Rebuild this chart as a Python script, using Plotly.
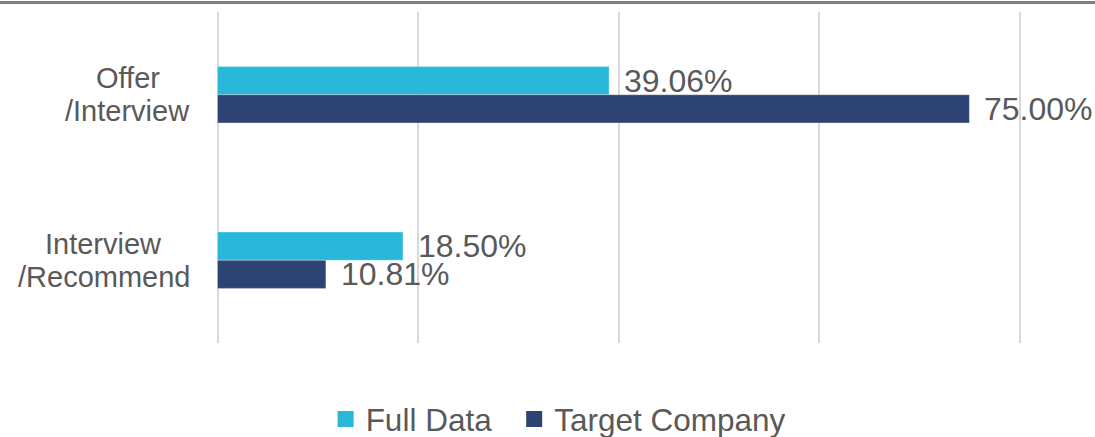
import plotly.graph_objects as go

categories = ["Offer<br>/Interview", "Interview<br>/Recommend"]
series_names = ["Full Data", "Target Company"]
full_data = [39.06, 18.50]
target_company = [75.00, 10.81]
colors = ["#29B8D9", "#2D4374"]
x_ticks = [0, 20, 40, 60, 80]

font_family = "Arial, Liberation Sans, sans-serif"
text_color = "#595959"
NB = "\u00a0"
LABEL_SIZE = 29

# Arial / Liberation Sans advance widths (per 1000 em) used to centre label lines
ARIAL_W = {"O": 778, "f": 278, "e": 556, "r": 333, "/": 278, "I": 278, "n": 556,
           "t": 278, "v": 500, "i": 222, "w": 722, "R": 722, "c": 500, "o": 556,
           "m": 833, "d": 556}


def text_width(s, size):
    return sum(ARIAL_W.get(ch, 556) for ch in s) * size / 1000.0


fig = go.Figure()
series_values = [full_data, target_company]
for i, (name, vals, col) in enumerate(zip(series_names, series_values, colors)):
    fig.add_trace(go.Bar(
        name=name, y=categories, x=vals, orientation="h",
        marker=dict(color=col, line=dict(color="rgba(255,255,255,0.5)", width=0.6)),
        showlegend=False,
    ))
    fig.add_trace(go.Scatter(
        name=name + (NB * 2 if i == 0 else ""), x=[None], y=[None], mode="markers",
        marker=dict(symbol="square", size=16, color=col),
        showlegend=True,
    ))

annotations = []
# category labels: each line its own annotation, lines centred on each other,
# block right edge 26px left of the plot
for c in categories:
    lines = c.split("<br>")
    widest = max(text_width(s, LABEL_SIZE) for s in lines)
    centre_shift = -26 - widest / 2.0
    for k, line in enumerate(lines):
        annotations.append(dict(
            x=0, xref="paper", xanchor="center", xshift=centre_shift,
            y=c, yref="y", yanchor="middle", yshift=16.5 - 33 * k, text=line,
            showarrow=False, align="center",
            font=dict(size=LABEL_SIZE, color=text_color, family=font_family),
        ))
# data labels
shifts = [14, -14]
for vals, ys in zip(series_values, shifts):
    for c, v in zip(categories, vals):
        annotations.append(dict(
            x=v, xref="x", xanchor="left", xshift=13,
            y=c, yref="y", yanchor="middle", yshift=ys,
            text=f"{v:.2f}%", showarrow=False,
            font=dict(size=32, color=text_color, family=font_family),
        ))

# plot area: x 217..1020, y 12..343 (page pixels); figure taller than window so
# the legend never pushes the margins
fig.update_layout(
    width=1095, height=490,
    margin=dict(l=216, r=74, t=12, b=147),
    paper_bgcolor="white", plot_bgcolor="white",
    barmode="group", bargap=0.66, bargroupgap=0,
    font=dict(family=font_family, color=text_color),
    xaxis=dict(range=[-0.15, 80.15], tickvals=x_ticks, showticklabels=False,
               showgrid=True, gridcolor="#D9D9D9", gridwidth=1.5,
               zeroline=False, showline=False, fixedrange=True),
    yaxis=dict(autorange="reversed", showticklabels=False, showgrid=False,
               zeroline=False, showline=False, fixedrange=True),
    legend=dict(orientation="h", x=0.425, xanchor="center",
                y=(343 - 419) / 331, yanchor="middle",
                font=dict(size=31.5, color=text_color, family=font_family),
                itemsizing="trace"),
    annotations=annotations,
    shapes=[dict(type="line", xref="paper", yref="paper",
                 x0=-0.4, x1=1.2, y0=(343 - 2.5) / 331, y1=(343 - 2.5) / 331,
                 line=dict(color="#808080", width=3))],
)

fig.write_html("out.html", config={"displayModeBar": False},
               post_script="document.body.style.margin='0';")
